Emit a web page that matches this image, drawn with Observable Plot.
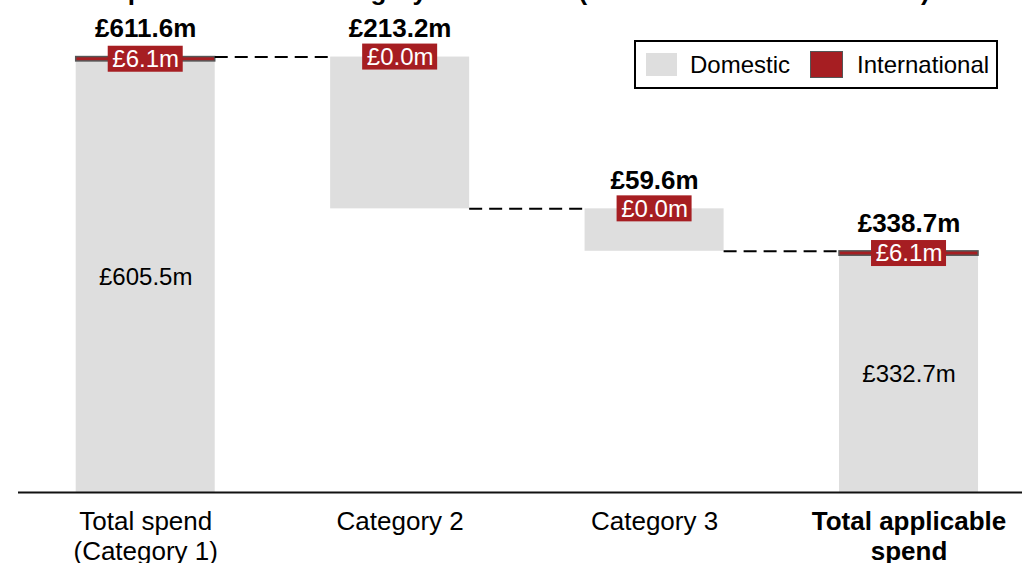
<!DOCTYPE html>
<html>
<head>
<meta charset="utf-8">
<script src="https://cdn.jsdelivr.net/npm/d3@7"></script>
<script src="https://cdn.jsdelivr.net/npm/@observablehq/plot@0.6"></script>
<style>
  html, body { margin: 0; padding: 0; background: #fff; overflow: hidden; }
  #wrap { position: relative; width: 1022px; height: 563px; font-family: "Liberation Sans", Arial, sans-serif; }
  #title { position: absolute; left: 46px; top: -24px; font-size: 26px; font-weight: bold; line-height: 30px; white-space: nowrap; color: #000; z-index: 2; }
  #legend { position: absolute; left: 634px; top: 40px; width: 360px; height: 45px; border: 2px solid #000; background: #fff; font-size: 24px; z-index: 2; }
  #legend .sw { position: absolute; box-sizing: border-box; }
  #legend .lb { position: absolute; top: 0; line-height: 45px; color: #000; white-space: nowrap; }
  #chart { position: absolute; left: 0; top: 0; }
</style>
</head>
<body>
<div id="wrap">
  <div id="chart"></div>
  <div id="title">Total spend and main category breakdown (Domestic and International) for 2023</div>
  <div id="legend">
    <div class="sw" style="left:10px;top:11px;width:31px;height:23px;background:#dedede;"></div>
    <div class="lb" style="left:54px;">Domestic</div>
    <div class="sw" style="left:174px;top:9px;width:33px;height:27px;background:#a61e22;border:1.5px solid #555;"></div>
    <div class="lb" style="left:221px;">International</div>
  </div>
</div>
<script>
// ---- data ----
const categories = ["Total spend\n(Category 1)", "Category 2", "Category 3", "Total applicable\nspend"];
const kinds = ["total", "decrease", "decrease", "total"];
const domestic = [605.5, 213.2, 59.6, 332.7];
const international = [6.1, 0.0, 0.0, 6.1];
const totals = [611.6, 213.2, 59.6, 338.7];

// ---- waterfall table ----
const fmt = v => "£" + v.toFixed(1) + "m";
let running = 0;
const rows = categories.map((c, i) => {
  let base, top;
  if (kinds[i] === "total") { base = 0; top = totals[i]; running = totals[i]; }
  else { top = running; base = running - totals[i]; running = base; }
  return {i, category: c, kind: kinds[i], base, top, dom: domestic[i], intl: international[i], total: totals[i], level: running};
});
const connectors = rows.slice(0, -1).map(r => ({i: r.i, level: r.level}));

const HW = 0.2732; // half bar width in band units
const RED = "#a61e22";
const GREY = "#dedede";

const chart = Plot.plot({
  width: 1022,
  height: 563,
  marginLeft: 18,
  marginRight: 0,
  marginTop: 10,
  marginBottom: 71,
  x: {type: "linear", domain: [-0.5, 3.446], axis: null},
  y: {domain: [0, 677], axis: null},
  style: {fontFamily: "'Liberation Sans', Arial, sans-serif", fontSize: "24px", background: "#fff", overflow: "visible"},
  marks: [
    // domestic parts
    Plot.rect(rows, {x1: d => d.i - HW, x2: d => d.i + HW, y1: d => d.base, y2: d => d.base + (d.kind === "total" ? d.dom : d.total - d.intl), fill: GREY}),
    // international parts
    Plot.rect(rows.filter(d => d.intl > 0), {x1: d => d.i - HW, x2: d => d.i + HW, y1: d => d.top - d.intl, y2: d => d.top, fill: RED, stroke: "#555", strokeWidth: 1.5}),
    // dashed connectors
    Plot.ruleY(connectors, {y: "level", x1: d => d.i + HW, x2: d => d.i + 1 - HW, stroke: "#000", strokeWidth: 2, strokeDasharray: "13,7"}),
    // baseline
    Plot.ruleY([0], {stroke: "#111", strokeWidth: 2}),
    // inner domestic labels
    Plot.text(rows.filter(d => d.kind === "total"), {x: "i", y: d => d.base + d.dom / 2, text: d => fmt(d.dom), fill: "#000", fontSize: 24, lineAnchor: "middle"}),
    // international label boxes
    Plot.rect(rows, {x1: "i", x2: "i", y1: d => d.top - d.intl / 2, y2: d => d.top - d.intl / 2, fill: RED, insetLeft: -37.5, insetRight: -37.5, insetTop: -13, insetBottom: -13}),
    Plot.text(rows, {x: "i", y: d => d.top - d.intl / 2, text: d => fmt(d.intl), fill: "#fff", fontSize: 24, lineAnchor: "middle"}),
    // bold totals
    Plot.text(rows, {x: "i", y: "top", text: d => fmt(d.total), fill: "#000", fontSize: 26, fontWeight: "bold", lineAnchor: "middle", dy: -28}),
    // category labels
    Plot.text(rows.filter(d => d.i < 3), {x: "i", y: () => 0, text: "category", fill: "#000", fontSize: 26, lineAnchor: "top", dy: 16, lineHeight: 1.15}),
    Plot.text(rows.filter(d => d.i === 3), {x: "i", y: () => 0, text: "category", fill: "#000", fontSize: 26, fontWeight: "bold", lineAnchor: "top", dy: 16, lineHeight: 1.15})
  ]
});
document.getElementById("chart").appendChild(chart);
</script>
</body>
</html>
